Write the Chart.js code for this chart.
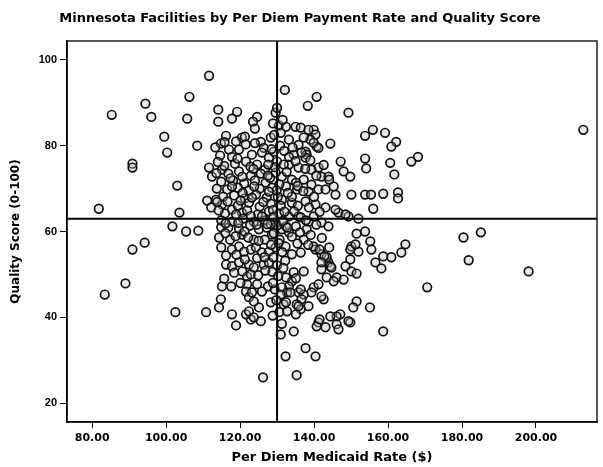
<!DOCTYPE html>
<html>
<head>
<meta charset="utf-8">
<script src="https://cdn.jsdelivr.net/npm/chart.js@4.4.0/dist/chart.umd.min.js"></script>
<style>
html,body{margin:0;padding:0;background:#fff;}
#wrap{width:603px;height:467px;}
</style>
</head>
<body>
<div id="wrap"><canvas id="c" width="603" height="467"></canvas></div>
<script>
// ---- Data (Per Diem Medicaid Rate $, Quality Score 0-100) ----
const rateA = [111.6,106.3,94.4,85.3,96.0,105.7,99.5,108.4,100.3,90.9, 90.9,111.6,112.4,103.0,81.8,103.6,111.1,113.5,112.2,101.7, 105.4,108.7,94.2,90.9,89.0,83.4,102.5,110.8,114.8,114.3, 117.8,118.9,115.1,117.6,126.2];
const qualA = [96.3,91.4,89.8,87.2,86.7,86.3,82.1,80.0,78.4,75.8, 74.9,74.9,72.8,70.7,65.3,64.4,67.2,67.4,65.6,61.2, 60.0,60.2,57.4,55.8,47.9,45.3,41.2,41.2,44.2,42.3, 40.7,38.1,47.2,47.2,26.0];

const rateB = [114.1,119.2,114.1,117.8,124.6,123.5,124.0,129.6,128.3,125.6, 120.5,116.2,114.8,132.1,138.3,140.7,149.3,130.0,121.3,130.5, 135.0,136.4,139.9,140.4,144.4,139.0,140.7,137.7,138.0];
const qualB = [88.4,87.9,85.6,86.3,86.7,85.6,84.0,87.7,81.9,80.9, 81.9,82.3,80.5,93.0,89.3,91.4,87.7,88.8,82.1,84.7, 84.4,84.2,83.7,82.6,80.5,81.4,79.8,78.6,77.9];

const rateC = [153.8,155.9,159.2,162.2,160.9,168.1,166.3,147.2,148.0,149.8, 153.8,154.1,160.6,161.7,141.2,142.0,143.9,145.3,145.8,150.1, 153.8,155.4,158.7,162.7,162.7,156.0,152.0,149.3,146.6,135.8, 138.5,142.0,212.8];
const qualC = [82.3,83.7,83.0,80.9,79.8,77.4,76.3,76.3,74.0,72.8, 77.0,74.7,76.0,73.3,74.9,72.8,72.8,70.5,68.6,68.6, 68.6,68.6,68.8,69.1,67.7,65.3,63.0,63.5,64.4,63.5, 62.3,62.1,83.7];

const rateD = [185.1,180.4,181.8,198.0,170.6,164.7,163.6,151.5,153.8,155.2, 155.5,160.9,158.7,156.6,158.2,150.1,152.0,149.8,148.5,150.1, 151.5,143.9,144.4,142.0,143.4,146.1,140.4,142.0,143.4,137.2, 134.5,134.0,133.2,139.9,141.2,139.3,142.6,135.8,137.2,136.6, 135.3,138.5,136.4,151.5,150.6,155.1,147.1,146.1,149.8,146.1, 141.2,143.1,140.7,158.7,134.5,131.0,137.7,140.4,132.3,135.3];
const qualD = [59.8,58.6,53.3,50.7,47.0,57.0,55.1,59.5,60.0,57.7, 55.8,54.0,54.2,52.8,51.4,56.5,55.3,53.5,51.9,50.7, 50.2,52.8,51.9,51.2,49.3,49.3,55.8,54.7,54.0,50.7, 50.5,48.4,47.2,47.0,47.7,45.8,44.2,45.8,45.3,44.2, 43.0,42.6,41.9,43.7,42.3,42.3,40.7,40.2,38.8,38.4, 38.8,37.7,37.9,36.7,36.7,36.0,32.8,30.9,30.9,26.5];

const rateE = [114.9,114.3,114.9,120.5,123.7,125.1,127.2,128.6,131.3,133.2, 119.7,121.1,122.9,124.3,125.9,127.8,129.6,132.3,134.0,116.2, 117.8,119.7,122.4,123.7,126.4,127.8,121.9,122.9,135.1,121.9, 121.6,122.4,124.6,127.5,129.4,131.3,132.7,122.9,125.1,125.6, 123.7,128.3,131.8,132.7,135.1,121.6,122.4,123.7];
const qualE = [61.0,58.6,56.3,59.3,58.1,60.5,60.9,59.3,60.5,59.8, 56.5,55.3,55.8,56.3,55.1,55.3,56.3,56.5,54.7,52.3, 51.9,52.8,52.3,51.6,52.3,52.8,49.5,50.0,49.1,47.7, 46.0,44.7,47.7,47.2,46.5,47.0,45.8,39.5,42.3,39.1, 43.7,43.5,43.0,41.4,40.7,40.7,41.4,40.0];

const rateF = [132.4,138.5,137.2,139.9,141.2,135.8,133.2,131.0,134.5,137.7, 133.2,135.8,139.3,144.1,131.3,134.0,137.2,139.3,132.4,135.4, 138.5,141.2,143.1,131.3,134.0,137.7,140.4,143.1,145.8,148.5, 133.2,136.4,139.9,132.4,135.1,138.0,143.9,134.0,137.2,139.9, 141.5,144.1,142.8,142.0,144.7,136.4,149.8,151.2,145.3,148.0, 132.4,133.6,136.4,142.0,132.4,135.8,141.5,144.4,149.3,146.6];
const qualF = [84.4,83.7,81.9,80.7,79.5,80.2,81.4,83.0,77.9,77.2, 75.6,74.9,74.4,72.1,72.8,72.1,72.1,70.9,70.5,69.8, 69.3,69.8,69.8,67.4,66.7,67.0,66.3,65.6,65.1,64.0, 63.5,63.3,63.5,61.2,61.2,60.5,61.2,58.8,58.1,56.5, 55.8,56.3,54.2,52.8,51.6,55.1,55.8,57.0,48.4,48.8, 49.3,45.8,46.5,44.9,43.5,42.6,39.5,40.2,39.1,37.2];

const rateG = [117.0,119.7,123.2,117.8,121.6,115.1,127.8,130.0,133.2,129.6, 135.1,128.6,134.0,115.1,117.8,120.5,
  115.7,118.6,124.6,126.7,131.8,116.8,119.7,122.9,125.6,114.9,
  118.1,121.1,124.0,126.9,116.5,119.4,122.4,125.3,115.4,118.4,
  121.3,124.3,127.2,130.2,119.4,122.4,125.3,128.3,115.9,121.9,
  124.8,127.8,130.5,114.9,117.8,120.8,123.7,126.7,129.6,116.8,
  119.7,122.7,130.0,126.4,129.1,114.6,126.7,130.7,117.3,117.8,
  116.2];
const qualG = [79.1,79.1,77.9,77.4,76.3,74.4,77.2,76.3,77.4,73.7, 71.4,70.2,68.1,66.3,65.1,64.4,
  75.3,75.8,75.6,74.4,75.6,73.5,74.0,73.0,73.5,71.6,
  71.9,71.2,71.9,71.4,69.8,70.2,69.5,70.0,68.1,68.4,
  67.7,68.6,67.9,68.1,66.0,66.7,65.8,66.5,64.2,64.9,
  64.0,64.7,64.2,62.6,62.3,63.0,62.3,62.6,62.1,60.9,
  60.7,61.4,61.4,79.5,78.6,77.7,58.1,58.1,58.1,55.8,
  54.4];

// facilities lying along the mean-rate line
const rateH = [128.9,131.5,129.2,130.8,128.5,131.9,129.4,132.6,128.1,130.6, 129.9,132.9,131.0,128.9,132.0,129.0,131.6,128.3,132.8,129.1, 130.4,128.4,131.4,129.0,132.2,130.0,128.7,131.7,130.3,128.9, 131.0,129.8,130.6,128.8,131.3];
const qualH = [85.2,86.0,82.5,80.0,79.2,78.8,75.0,73.9,72.5,71.0, 69.6,69.0,66.0,65.0,64.6,63.4,62.4,61.7,60.9,59.6, 57.3,56.9,55.2,54.0,53.2,52.1,50.6,51.5,49.6,48.0, 45.3,44.0,41.2,40.4,38.5];

// dense core, left of the mean-rate line
const rateI = [113.3,115.8,118.9,121.5,124.0,125.9,114.0,119.3,122.8,127.6, 113.6,117.4,120.6,123.6,127.5,113.7,117.8,120.7,123.8,127.8, 113.8,116.6,120.1,123.2,126.3,114.2,118.9,122.9,125.9,116.1, 119.5,121.2,124.5,127.4,116.0,118.8,122.2,125.0,119.0,121.3, 124.6,126.6,118.4,120.6,124.9,126.8,115.7,120.1,125.9,123.2];
const qualI = [79.6,80.8,81.0,80.3,80.6,78.4,76.2,77.0,75.1,75.6, 73.6,72.4,72.8,74.6,73.0,70.0,70.5,69.0,70.5,69.3, 66.9,67.0,67.2,67.9,66.9,64.9,64.0,63.6,63.5,61.9, 62.0,60.0,61.6,61.7,59.6,58.9,58.6,57.8,54.6,53.5, 53.8,54.0,50.4,50.7,49.8,50.9,49.0,48.0,46.0,45.8];

// dense core, right of the mean-rate line
const rateJ = [134.2,136.6,139.0,135.0,137.6,142.6,140.6,135.6,137.1,140.0, 135.6,138.6,141.5,134.6,137.8,140.6,136.2,139.1,142.1,135.5, 138.4];
const qualJ = [79.6,78.4,76.6,76.4,74.6,75.5,73.0,70.6,69.4,68.1, 66.0,65.6,64.6,64.7,62.6,61.6,59.8,59.2,58.5,57.2, 56.9];

const xTickValues = [80, 100, 120, 140, 160, 180, 200];
const yTickValues = [20, 40, 60, 80, 100];
const meanRate = 130;     // vertical reference line
const meanQuality = 63;   // horizontal reference line
const xMin = 73.2, xMax = 216.5;
const yMin = 15.6, yMax = 104.4;

const titleText = 'Minnesota Facilities by Per Diem Payment Rate and Quality Score';
const xTitle = 'Per Diem Medicaid Rate ($)';
const yTitle = 'Quality Score (0-100)';

// ---- build points ----
const rateAll = [].concat(rateA, rateB, rateC, rateD, rateE, rateF, rateG, rateH, rateI, rateJ);
const qualAll = [].concat(qualA, qualB, qualC, qualD, qualE, qualF, qualG, qualH, qualI, qualJ);
const points = rateAll.map((r, i) => ({x: r, y: qualAll[i]}));

const FONT = "'Liberation Sans', Arial, Helvetica, sans-serif";
const WIDE = "'DejaVu Sans', Verdana, sans-serif";

const refLines = {
  id: 'refLines',
  afterDatasetsDraw(chart) {
    const {ctx, chartArea: a, scales: {x, y}} = chart;
    const px = x.getPixelForValue(meanRate);
    const py = y.getPixelForValue(meanQuality);
    ctx.save();
    ctx.strokeStyle = '#000';
    ctx.lineWidth = 2;
    ctx.beginPath();
    ctx.moveTo(px, a.top); ctx.lineTo(px, a.bottom);
    ctx.moveTo(a.left, py); ctx.lineTo(a.right, py);
    ctx.stroke();
    ctx.lineWidth = 1.3;
    ctx.strokeRect(a.left, a.top, a.right - a.left, a.bottom - a.top);
    ctx.restore();
  }
};

new Chart(document.getElementById('c'), {
  type: 'scatter',
  data: {
    datasets: [{
      data: points,
      pointStyle: 'circle',
      pointRadius: 4.3,
      pointBorderWidth: 1.7,
      borderColor: '#111',
      backgroundColor: 'rgba(190,190,190,0.35)'
    }]
  },
  options: {
    responsive: false,
    animation: false,
    devicePixelRatio: 1,
    layout: {padding: {left: 0, right: 3, top: 0, bottom: 0}},
    plugins: {
      legend: {display: false},
      tooltip: {enabled: false},
      title: {
        display: true, text: titleText, color: '#000',
        font: {family: WIDE, size: 13, weight: 'bold'},
        padding: {top: 11, bottom: 14.4}
      }
    },
    scales: {
      x: {
        type: 'linear', min: xMin, max: xMax,
        afterBuildTicks(s) { s.ticks = xTickValues.map(v => ({value: v})); },
        afterFit(s) { s.height = 45; },
        grid: {display: true, drawOnChartArea: false, drawTicks: true, tickLength: 6, color: '#000', lineWidth: 1},
        border: {display: true, color: '#000', width: 1.5},
        ticks: {color: '#000', font: {family: WIDE, size: 11, weight: 'bold'}, padding: 4, maxRotation: 0, autoSkip: false,
                callback: v => Number(v).toFixed(2)},
        title: {display: true, text: xTitle, color: '#000', font: {family: WIDE, size: 13, weight: 'bold'}, padding: {top: 0, bottom: 2}}
      },
      y: {
        type: 'linear', min: yMin, max: yMax,
        afterBuildTicks(s) { s.ticks = yTickValues.map(v => ({value: v})); },
        afterFit(s) { s.width = 67; },
        grid: {display: true, drawOnChartArea: false, drawTicks: true, tickLength: 7, color: '#000', lineWidth: 1},
        border: {display: true, color: '#000', width: 1.5},
        ticks: {color: '#000', font: {family: FONT, size: 11, weight: 'bold'}, padding: 3, autoSkip: false,
                callback: v => String(v)},
        title: {display: true, text: yTitle, color: '#000', font: {family: WIDE, size: 12, weight: 'bold'}, padding: {top: 9, bottom: 4}}
      }
    }
  },
  plugins: [refLines]
});
</script>
</body>
</html>
